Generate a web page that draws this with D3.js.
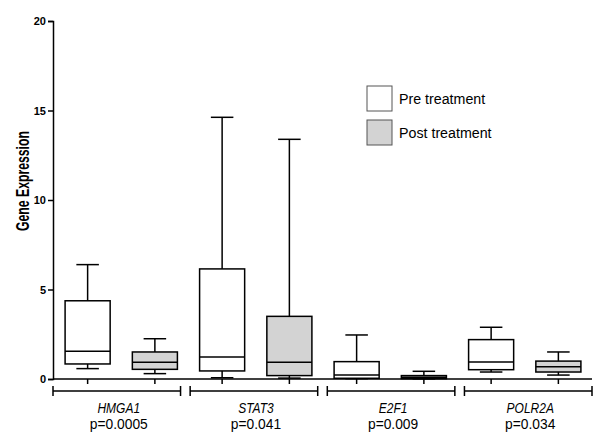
<!DOCTYPE html>
<html>
<head>
<meta charset="utf-8">
<script src="https://cdn.jsdelivr.net/npm/d3@7"></script>
<style>
  body { margin: 0; background: #fff; }
  text { font-family: Arial, "Liberation Sans", sans-serif; }
</style>
</head>
<body>
<div id="chart"></div>
<script>
// genes and p values
var genes = ["HMGA1", "STAT3", "E2F1", "POLR2A"];
var pValues = ["p=0.0005", "p=0.041", "p=0.009", "p=0.034"];
var groups = ["Pre treatment", "Post treatment"];
var yTicks = [0, 5, 10, 15, 20];

// box stats per gene: [whiskerLow, q1, median, q3, whiskerHigh]
var preStats = [
    [0.58, 0.84, 1.55, 4.37, 6.39],
    [0.07, 0.45, 1.23, 6.15, 14.62],
    [0.02, 0.04, 0.22, 0.97, 2.46],
    [0.39, 0.52, 0.95, 2.20, 2.89]
];
var postStats = [
    [0.30, 0.54, 0.93, 1.51, 2.25],
    [0.05, 0.19, 0.93, 3.50, 13.39],
    [0.01, 0.02, 0.10, 0.19, 0.43],
    [0.22, 0.39, 0.69, 1.00, 1.51]
];

var attrs = {
    svgWidth: 600,
    svgHeight: 443,
    marginTop: 21,
    marginLeft: 53,
    plotRight: 592,
    plotBottom: 379
};

var svg = d3.select('#chart')
    .append('svg')
    .attr('width', attrs.svgWidth)
    .attr('height', attrs.svgHeight);

// flatten into boxes in drawing order
var boxes = [];
genes.forEach(function (g, i) {
    boxes.push({ key: g + '-pre', gene: g, group: 0, s: preStats[i] });
    boxes.push({ key: g + '-post', gene: g, group: 1, s: postStats[i] });
});

var x = d3.scaleBand()
    .domain(boxes.map(function (d) { return d.key; }))
    .range([attrs.marginLeft + 1, attrs.plotRight])
    .paddingInner(0.33)
    .paddingOuter(0.165);

// scale for the gene brackets under the axis
var xGene = d3.scaleBand()
    .domain(genes)
    .range([attrs.marginLeft, attrs.plotRight])
    .paddingInner(0.07)
    .paddingOuter(0);

var y = d3.scaleLinear()
    .domain([0, 20])
    .range([attrs.plotBottom, attrs.marginTop]);

var fills = ['#ffffff', '#d3d3d3'];

// y axis
var yAxis = svg.append('g')
    .attr('transform', 'translate(' + attrs.marginLeft + ',0)')
    .call(d3.axisLeft(y).tickValues(yTicks).tickSize(5).tickPadding(2));
yAxis.select('.domain').attr('stroke', '#000').attr('stroke-width', 1.5);
yAxis.selectAll('.tick line').attr('stroke', '#000').attr('stroke-width', 1.5);
yAxis.selectAll('.tick text')
    .attr('fill', '#000')
    .style('font-size', '11px')
    .style('font-weight', 'bold');

// x baseline
svg.append('line')
    .attr('x1', attrs.marginLeft).attr('x2', attrs.plotRight)
    .attr('y1', y(0)).attr('y2', y(0))
    .attr('stroke', '#000').attr('stroke-width', 1.5);

// x ticks under each box
svg.selectAll('.xtick').data(boxes).enter().append('line')
    .attr('class', 'xtick')
    .attr('x1', function (d) { return x(d.key) + x.bandwidth() / 2; })
    .attr('x2', function (d) { return x(d.key) + x.bandwidth() / 2; })
    .attr('y1', y(0)).attr('y2', y(0) + 5)
    .attr('stroke', '#000').attr('stroke-width', 1.5);

// boxes
var bw = x.bandwidth();
var b = svg.selectAll('.box').data(boxes).enter().append('g')
    .attr('class', 'box')
    .attr('transform', function (d) { return 'translate(' + x(d.key) + ',0)'; });

b.append('line')
    .attr('x1', bw / 2).attr('x2', bw / 2)
    .attr('y1', function (d) { return y(d.s[0]); })
    .attr('y2', function (d) { return y(d.s[4]); })
    .attr('stroke', '#000').attr('stroke-width', 1.5);

b.selectAll('.cap').data(function (d) { return [d.s[0], d.s[4]]; }).enter().append('line')
    .attr('class', 'cap')
    .attr('x1', bw / 4).attr('x2', bw * 3 / 4)
    .attr('y1', function (v) { return y(v); })
    .attr('y2', function (v) { return y(v); })
    .attr('stroke', '#000').attr('stroke-width', 1.5);

b.append('rect')
    .attr('x', 0)
    .attr('width', bw)
    .attr('y', function (d) { return y(d.s[3]); })
    .attr('height', function (d) { return y(d.s[1]) - y(d.s[3]); })
    .attr('fill', function (d) { return fills[d.group]; })
    .attr('stroke', '#000').attr('stroke-width', 1.5);

b.append('line')
    .attr('x1', 0).attr('x2', bw)
    .attr('y1', function (d) { return y(d.s[2]); })
    .attr('y2', function (d) { return y(d.s[2]); })
    .attr('stroke', '#000').attr('stroke-width', 1.5);

// gene brackets and labels
var bracketY = 391;
var gb = svg.selectAll('.gene').data(genes).enter().append('g')
    .attr('class', 'gene');

gb.append('path')
    .attr('d', function (g) {
        var l = xGene(g), r = xGene(g) + xGene.bandwidth();
        return 'M' + l + ',' + (bracketY - 5) + 'V' + (bracketY + 5) +
            'M' + l + ',' + bracketY + 'H' + r +
            'M' + r + ',' + (bracketY - 5) + 'V' + (bracketY + 5);
    })
    .attr('fill', 'none')
    .attr('stroke', '#000').attr('stroke-width', 1.5);

// the source font is narrow, so squeeze text horizontally
gb.append('text')
    .attr('transform', function (g) {
        return 'translate(' + (xGene(g) + xGene.bandwidth() / 2 + 2) + ',413) scale(0.8,1)';
    })
    .attr('text-anchor', 'middle')
    .style('font-size', '15px')
    .style('font-style', 'italic')
    .text(function (g) { return g; });

gb.append('text')
    .attr('transform', function (g) {
        return 'translate(' + (xGene(g) + xGene.bandwidth() / 2 + 2) + ',429) scale(0.92,1)';
    })
    .attr('text-anchor', 'middle')
    .style('font-size', '15px')
    .text(function (g, i) { return pValues[i]; });

// y label
svg.append('text')
    .attr('transform', 'translate(29,181) rotate(-90) scale(0.68,1)')
    .attr('text-anchor', 'middle')
    .style('font-size', '18px')
    .style('font-weight', 'bold')
    .text('Gene Expression');

// legend
var legend = svg.selectAll('.legend').data(groups).enter().append('g')
    .attr('class', 'legend')
    .attr('transform', function (d, i) { return 'translate(367,' + (86 + i * 34) + ')'; });

legend.append('rect')
    .attr('width', 25).attr('height', 25)
    .attr('fill', function (d, i) { return fills[i]; })
    .attr('stroke', '#555').attr('stroke-width', 1);

legend.append('text')
    .attr('transform', 'translate(32,18) scale(0.95,1)')
    .style('font-size', '15px')
    .text(function (d) { return d; });
</script>
</body>
</html>
